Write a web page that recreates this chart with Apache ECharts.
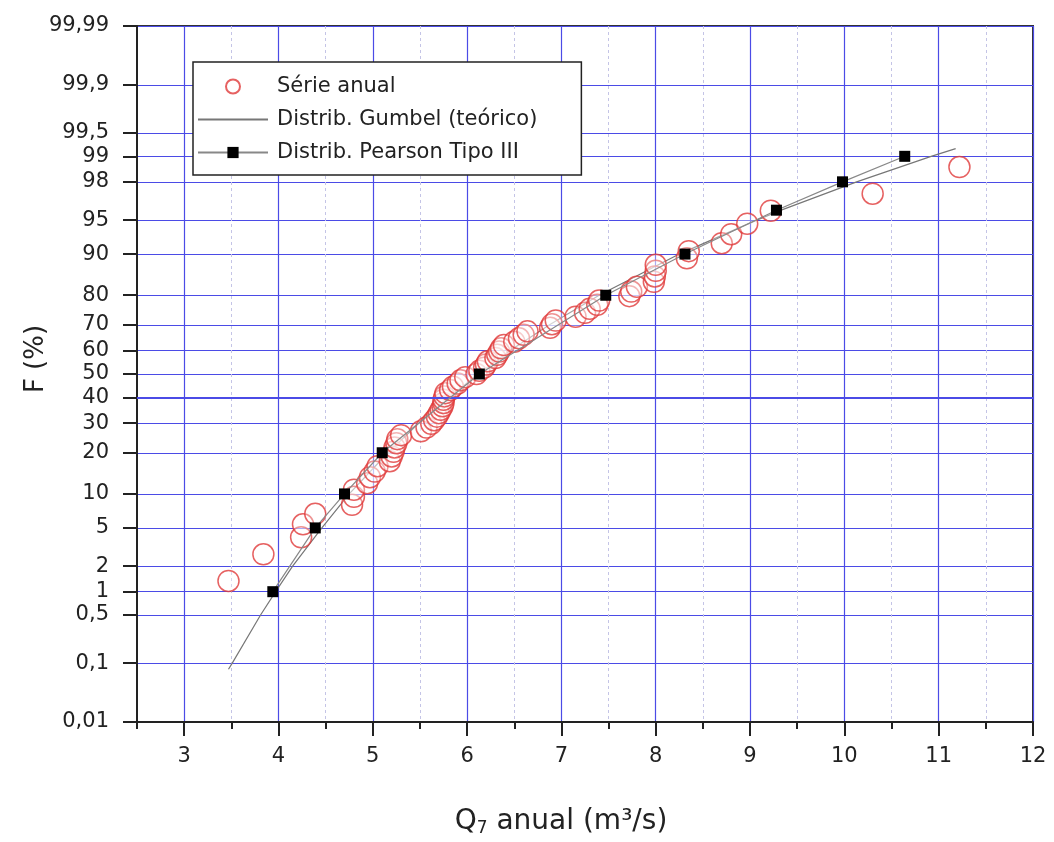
<!DOCTYPE html>
<html>
<head>
<meta charset="utf-8">
<script src="https://cdn.jsdelivr.net/npm/echarts@6/dist/echarts.min.js"></script>
<style>html,body{margin:0;padding:0;background:#fff;}#c{width:1054px;height:842px;}</style>
</head>
<body>
<div id="c"></div>
<script>
// ---- Data ----
// Annual series: Q7 values (m3/s) and plotting-position frequencies F (%)
const serieX = [3.47,3.84,4.24,4.26,4.39,4.78,4.80,4.80,4.94,4.97,5.02,5.05,5.18,5.20,5.22,5.23,5.25,5.26,5.30,5.51,
  5.57,5.62,5.65,5.68,5.70,5.72,5.74,5.75,5.75,5.76,5.77,5.82,5.85,5.90,5.93,5.98,6.10,6.13,6.18,6.20,
  6.22,6.30,6.32,6.34,6.36,6.39,6.50,6.55,6.60,6.64,6.88,6.90,6.94,7.15,7.25,7.30,7.38,7.40,7.72,7.74,
  7.80,7.98,7.99,8.00,8.00,8.33,8.35,8.70,8.80,8.97,9.22,10.30,11.22];
const serieF = [1.35,2.70,4.05,5.41,6.76,8.11,9.46,10.81,12.16,13.51,14.86,16.22,17.57,18.92,20.27,21.62,22.97,24.32,25.68,27.03,
  28.38,29.73,31.08,32.43,33.78,35.14,36.49,37.84,39.19,40.54,41.89,43.24,44.59,45.95,47.30,48.65,50.00,51.35,52.70,54.05,
  55.41,56.76,58.11,59.46,60.81,62.16,63.51,64.86,66.22,67.57,68.92,70.27,71.62,72.97,74.32,75.68,77.03,78.38,79.73,81.08,
  82.43,83.78,85.14,86.49,87.84,89.19,90.54,91.89,93.24,94.59,95.95,97.30,98.65];
// Gumbel theoretical line
const gumbelX = [3.47,3.51,3.81,3.97,4.15,4.46,4.75,5.16,5.49,5.80,6.12,6.46,6.87,7.40,8.25,9.07,9.33,10.13,10.92,11.18];
const gumbelF = [0.08,0.1,0.5,1,2,5,10,20,30,40,50,60,70,80,90,95,96,98,99,99.2];
// Pearson type III
const pearsonX = [3.94,4.39,4.70,5.10,6.13,7.47,8.31,9.28,9.98,10.64];
const pearsonF = [1,5,10,20,50,80,90,96,98,99];
// Axis ticks
const yTickF = [0.01,0.1,0.5,1,2,5,10,20,30,40,50,60,70,80,90,95,98,99,99.5,99.9,99.99];
const yTickLabels = ['0,01','0,1','0,5','1','2','5','10','20','30','40','50','60','70','80','90','95','98','99','99,5','99,9','99,99'];
const xTicks = [3,4,5,6,7,8,9,10,11,12];
const xMinorTicks = [2.5,3.5,4.5,5.5,6.5,7.5,8.5,9.5,10.5,11.5];

// Normal probability scale transform (inverse normal CDF)
function probit(p){
  const a=[-3.969683028665376e+01,2.209460984245205e+02,-2.759285104469687e+02,1.383577518672690e+02,-3.066479806614716e+01,2.506628277459239e+00];
  const b=[-5.447609879822406e+01,1.615858368580409e+02,-1.556989798598866e+02,6.680131188771972e+01,-1.328068155288572e+01];
  const c=[-7.784894002430293e-03,-3.223964580411365e-01,-2.400758277161838e+00,-2.549732539343734e+00,4.374664141464968e+00,2.938163982698783e+00];
  const d=[7.784695709041462e-03,3.224671290700398e-01,2.445134137142996e+00,3.754408661907416e+00];
  const pl=0.02425, ph=1-pl;
  if(p<pl){const q=Math.sqrt(-2*Math.log(p));return (((((c[0]*q+c[1])*q+c[2])*q+c[3])*q+c[4])*q+c[5])/((((d[0]*q+d[1])*q+d[2])*q+d[3])*q+1);}
  if(p<=ph){const q=p-0.5,r=q*q;return (((((a[0]*r+a[1])*r+a[2])*r+a[3])*r+a[4])*r+a[5])*q/(((((b[0]*r+b[1])*r+b[2])*r+b[3])*r+b[4])*r+1);}
  const q=Math.sqrt(-2*Math.log(1-p));return -(((((c[0]*q+c[1])*q+c[2])*q+c[3])*q+c[4])*q+c[5])/((((d[0]*q+d[1])*q+d[2])*q+d[3])*q+1);
}
const zOf = f => probit(f/100);
const yTickZ = yTickF.map(zOf);
const pairs = (xs, fs) => xs.map((x,i)=>[x, zOf(fs[i])]);

const FONT = 'DejaVu Sans';
const BLUE = '#4b4be6';

const chart = echarts.init(document.getElementById('c'), null, {renderer:'canvas'});
chart.setOption({
  animation:false,
  backgroundColor:'#fff',
  grid:{left:137, right:21, top:26, bottom:120, show:true, borderColor:'#333', borderWidth:2, backgroundColor:'transparent'},
  legend:{
    left:193, top:62, orient:'vertical',
    padding:[14,44,12,4],
    backgroundColor:'#fff', borderColor:'#222', borderWidth:1.5,
    itemWidth:70, itemHeight:14, itemGap:12,
    textStyle:{fontFamily:FONT, fontSize:21, lineHeight:21, color:'#222', padding:[0,0,0,4]},
    data:['Série anual', {name:'Distrib. Gumbel (teórico)', itemStyle:{opacity:0}}, 'Distrib. Pearson Tipo III']
  },
  xAxis:[{
    type:'value', min:2.5, max:12,
    name:'{a|Q}{s|7}{a| anual (m³/s)}', nameLocation:'middle', nameGap:84, nameMoveOverlap:false,
    nameTextStyle:{padding:[0,48,0,0], rich:{a:{fontFamily:FONT, fontSize:28, color:'#222'}, s:{fontFamily:FONT, fontSize:17, color:'#222', padding:[14,0,0,0]}}},
    axisLine:{show:true, onZero:false, lineStyle:{color:'#222', width:2}},
    axisTick:{show:true, inside:false, length:14, lineStyle:{color:'#222', width:2}, customValues:xTicks},
    axisLabel:{fontFamily:FONT, fontSize:21, color:'#222', margin:24, customValues:xTicks},
    splitLine:{show:true, lineStyle:{color:BLUE, width:1.2}}
  },{
    type:'value', min:2.5, max:12, position:'bottom',
    axisLine:{show:false, onZero:false},
    axisTick:{show:true, length:7, lineStyle:{color:'#222', width:2}, customValues:xMinorTicks},
    axisLabel:{show:false, customValues:xMinorTicks},
    splitLine:{show:true, lineStyle:{color:'#c4c4e6', width:1, type:[3,3]}}
  }],
  yAxis:{
    type:'value', min:yTickZ[0], max:yTickZ[yTickZ.length-1],
    name:'F (%)', nameLocation:'middle', nameGap:88, nameRotate:90, nameMoveOverlap:false,
    nameTextStyle:{fontFamily:FONT, fontSize:26, color:'#222', padding:[0,0,0,30]},
    axisLine:{show:true, onZero:false, lineStyle:{color:'#222', width:2}},
    axisTick:{show:true, length:14, lineStyle:{color:'#222', width:2}, customValues:yTickZ},
    axisLabel:{fontFamily:FONT, fontSize:21, color:'#222', margin:28, customValues:yTickZ,
      formatter:function(v){ let best=0, bd=1e9; yTickZ.forEach((z,i)=>{const d=Math.abs(z-v); if(d<bd){bd=d;best=i;}}); return yTickLabels[best]; }},
    splitLine:{show:true, lineStyle:{color:BLUE, width:1.2}}
  },
  series:[
    {name:'Distrib. Gumbel (teórico)', type:'line', xAxisIndex:0, data:pairs(gumbelX,gumbelF), symbol:'none', smooth:false,
      lineStyle:{color:'#777', width:1.2}, itemStyle:{color:'#777'}, z:3,
      markLine:{silent:true, symbol:'none', label:{show:false}, lineStyle:{color:BLUE, width:2, type:'solid'}, data:[{yAxis:zOf(40)}]}},
    {name:'Série anual', type:'scatter', xAxisIndex:0, data:pairs(serieX,serieF), symbol:'circle', symbolSize:21,
      itemStyle:{color:'rgba(255,255,255,0.4)', borderColor:'#e03a3a', borderWidth:1.5}, z:4},
    {name:'Distrib. Pearson Tipo III', type:'line', xAxisIndex:0, data:pairs(pearsonX,pearsonF), symbol:'rect', symbolSize:11,
      showAllSymbol:true, lineStyle:{color:'#888', width:1.2}, itemStyle:{color:'#000'}, z:5}
  ]
});
</script>
</body>
</html>
